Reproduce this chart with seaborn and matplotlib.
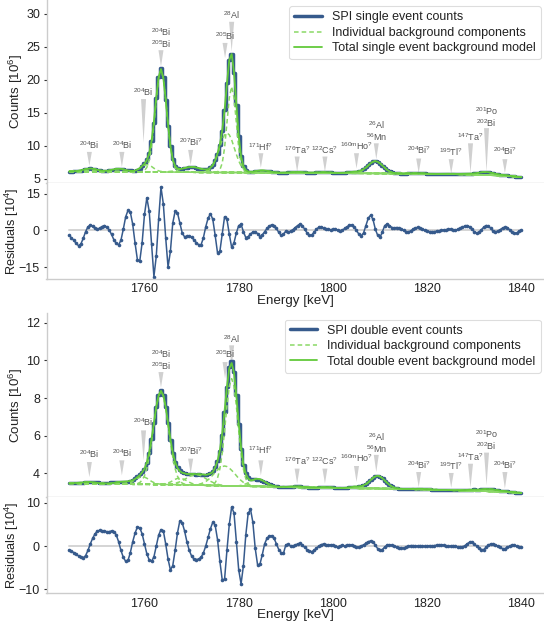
import numpy as np
import pandas as pd
import matplotlib
matplotlib.use("Agg")
import matplotlib.pyplot as plt
import seaborn as sns

# ------------------------------------------------------------------ data
E_START = 1744.0
E_STEP = 0.5
N_BINS = 193
energy = E_START + E_STEP * np.arange(N_BINS)          # bin centres [keV]
tick_energies = [1760, 1780, 1800, 1820, 1840]

# continuum level [10^6 counts] per bin
single_continuum = [
    6.15, 6.15, 6.15, 6.14, 6.14, 6.14, 6.14, 6.13, 6.13, 6.13,
    6.13, 6.13, 6.12, 6.12, 6.12, 6.12, 6.11, 6.11, 6.11, 6.11,
    6.11, 6.10, 6.10, 6.10, 6.09, 6.09, 6.09, 6.08, 6.08, 6.08,
    6.08, 6.08, 6.07, 6.07, 6.07, 6.07, 6.06, 6.06, 6.06, 6.06,
    6.06, 6.05, 6.05, 6.05, 6.04, 6.04, 6.04, 6.03, 6.03, 6.03,
    6.03, 6.02, 6.02, 6.02, 6.01, 6.01, 6.01, 6.00, 6.00, 6.00,
    6.00, 6.00, 5.99, 5.99, 5.99, 5.99, 5.98, 5.98, 5.98, 5.98,
    5.98, 5.98, 5.97, 5.97, 5.97, 5.97, 5.96, 5.96, 5.96, 5.96,
    5.96, 5.96, 5.95, 5.95, 5.95, 5.95, 5.94, 5.94, 5.94, 5.94,
    5.94, 5.94, 5.93, 5.93, 5.93, 5.93, 5.92, 5.92, 5.92, 5.92,
    5.92, 5.92, 5.91, 5.91, 5.91, 5.91, 5.90, 5.90, 5.90, 5.90,
    5.90, 5.89, 5.89, 5.89, 5.88, 5.88, 5.88, 5.87, 5.87, 5.87,
    5.87, 5.87, 5.86, 5.86, 5.86, 5.86, 5.85, 5.85, 5.85, 5.85,
    5.85, 5.84, 5.84, 5.84, 5.83, 5.83, 5.83, 5.82, 5.82, 5.82,
    5.82, 5.81, 5.81, 5.81, 5.80, 5.80, 5.80, 5.79, 5.79, 5.79,
    5.79, 5.78, 5.78, 5.77, 5.77, 5.77, 5.76, 5.76, 5.75, 5.75,
    5.75, 5.74, 5.73, 5.73, 5.72, 5.71, 5.71, 5.70, 5.69, 5.69,
    5.68, 5.67, 5.66, 5.65, 5.64, 5.63, 5.61, 5.60, 5.59, 5.58,
    5.57, 5.55, 5.53, 5.51, 5.50, 5.48,
    5.46, 5.43, 5.40, 5.37, 5.34, 5.31, 5.28]

double_continuum = [
    3.47, 3.47, 3.47, 3.47, 3.47, 3.46, 3.46, 3.46, 3.46, 3.46,
    3.46, 3.46, 3.46, 3.45, 3.45, 3.45, 3.45, 3.44, 3.44, 3.44,
    3.44, 3.44, 3.44, 3.43, 3.43, 3.43, 3.43, 3.42, 3.42, 3.42,
    3.42, 3.42, 3.42, 3.42, 3.42, 3.41, 3.41, 3.41, 3.41, 3.41,
    3.41, 3.41, 3.40, 3.40, 3.40, 3.40, 3.40, 3.39, 3.39, 3.39,
    3.39, 3.39, 3.38, 3.38, 3.38, 3.37, 3.37, 3.37, 3.36, 3.36,
    3.36, 3.36, 3.35, 3.35, 3.35, 3.34, 3.34, 3.34, 3.33, 3.33,
    3.33, 3.33, 3.32, 3.32, 3.32, 3.32, 3.32, 3.31, 3.31, 3.31,
    3.31, 3.31, 3.30, 3.30, 3.30, 3.29, 3.29, 3.29, 3.28, 3.28,
    3.28, 3.28, 3.27, 3.27, 3.27, 3.26, 3.26, 3.26, 3.25, 3.25,
    3.25, 3.25, 3.24, 3.24, 3.24, 3.23, 3.23, 3.23, 3.22, 3.22,
    3.22, 3.22, 3.22, 3.22, 3.21, 3.21, 3.21, 3.21, 3.21, 3.21,
    3.21, 3.21, 3.21, 3.20, 3.20, 3.20, 3.20, 3.20, 3.20, 3.20,
    3.20, 3.20, 3.19, 3.19, 3.19, 3.19, 3.19, 3.18, 3.18, 3.18,
    3.18, 3.17, 3.17, 3.17, 3.16, 3.16, 3.16, 3.15, 3.15, 3.15,
    3.15, 3.14, 3.14, 3.14, 3.13, 3.13, 3.13, 3.12, 3.12, 3.12,
    3.12, 3.11, 3.11, 3.10, 3.10, 3.10, 3.09, 3.09, 3.08, 3.08,
    3.08, 3.07, 3.07, 3.06, 3.06, 3.06, 3.05, 3.05, 3.04, 3.04,
    3.04, 3.03, 3.03, 3.02, 3.01, 3.01,
    3.00, 2.99, 2.99, 2.98, 2.97, 2.97, 2.96]

# fit residuals [10^4 counts] per bin
single_residuals = [
    -2.0, -3.0, -4.0, -5.3, -6.2, -5.5, -3.2, -0.5, 1.5, 2.2,
    1.8, 0.8, 0.6, 0.9, 1.6, 2.0, 1.4, 0.2, -1.6, -3.8,
    -5.3, -5.9, -4.0, 0.5, 5.5, 8.2, 7.4, 2.5, -5.2, -12.0,
    -12.4, -5.0, 6.5, 13.3, 7.8, -5.5, -18.8, -10.5, 4.5, 17.6,
    10.8, -3.0, -14.9, -8.5, 3.0, 7.8, 7.2, 3.0, -1.0, -2.6,
    -2.4, -2.3, -2.8, -3.8, -5.0, -5.8, -5.9, -3.0, 1.5, 5.0,
    6.8, 4.5, -2.0, -9.1, -8.5, -1.5, 5.6, 4.5, -1.5, -6.9,
    -5.0, -1.0, 2.0, 2.5, -0.5, -2.9, -2.5, -1.5, -0.6, -0.5,
    -1.3, -2.5, -1.8, -0.5, 0.8, 1.8, 2.3, 2.0, 0.8, -0.8,
    -2.0, -1.5, -0.3, -0.8, -0.3, 0.3, 1.2, 2.0, 2.6, 2.0,
    0.5, -1.0, -2.0, -1.8, -0.8, 0.5, 1.3, 1.5, 1.0, 0.6,
    0.5, 0.3, 0.4, 0.5, 0.2, -0.2, 0.1, 0.8, 1.5, 2.1,
    2.3, 1.5, 0.0, -1.5, -2.2, -1.0, 2.0, 5.0, 6.2, 4.5,
    0.5, -2.0, -2.8, -0.5, 2.0, 2.6, 2.0, 1.2, 1.0, 1.2,
    1.0, 0.5, 0.0, -0.5, -0.6, -0.2, 0.5, 1.0, 1.3, 1.0,
    0.5, 0.0, -0.3, -0.5, -0.5, -0.5, -0.3, -0.2, 0.0, 0.2,
    0.3, 0.5, 0.5, 0.3, 0.2, 0.4, 0.8, 1.3, 1.8, 2.0,
    1.5, 0.5, -0.5, -1.0, -0.8, 0.3, 1.3, 2.0, 1.8, 0.8,
    -0.2, -0.5, -0.3, 0.3, 1.0, 1.3, 1.2, 0.3, -0.8, -1.2,
    -1.0, -0.3, 0.2]

double_residuals = [
    -0.9, -1.2, -1.5, -1.8, -2.3, -2.6, -2.7, -2.2, -1.0, 0.5,
    1.8, 2.8, 3.5, 3.6, 3.5, 3.5, 3.3, 3.3, 3.5, 3.3,
    2.6, 1.0, -1.0, -2.6, -3.5, -3.3, -1.5, 1.0, 3.0, 4.4,
    4.2, 2.8, 0.5, -1.8, -3.2, -3.5, -2.5, 0.0, 2.5, 3.8,
    3.5, 0.5, -3.0, -5.5, -4.5, -1.0, 3.0, 5.8, 5.4, 3.5,
    1.0, -1.0, -2.3, -3.0, -3.1, -3.0, -2.6, -1.6, 0.0, 2.0,
    4.0, 5.5, 4.8, 1.5, -3.5, -7.8, -7.6, -1.0, 5.0, 9.0,
    7.6, 1.0, -5.5, -8.7, -4.5, 2.5, 7.5, 8.5, 5.5, -0.5,
    -4.3, -4.2, -2.0, 0.5, 1.8, 2.3, 2.4, 1.8, 0.5, -0.8,
    -1.5, -1.7, 0.3, 0.4, 0.0, 0.0, 0.2, 0.5, 0.6, 0.2,
    -0.3, -0.8, -1.1, -1.3, -1.0, -0.5, 0.0, 0.3, 0.5, 0.3,
    0.2, 0.3, 0.2, 0.0, -0.2, 0.0, 0.2, 0.0, 0.2, 0.3,
    0.3, 0.0, -0.3, -0.2, 0.0, 0.3, 0.6, 1.0, 1.2, 1.0,
    0.2, -0.6, -1.0, -0.8, -0.2, 0.2, 0.3, 0.2, 0.0, -0.2,
    -0.4, -0.5, -0.5, -0.3, 0.0, 0.1, 0.1, 0.0, 0.0, 0.1,
    0.0, -0.1, 0.0, 0.1, 0.0, 0.1, 0.2, 0.3, 0.3, 0.2,
    0.0, -0.1, 0.0, 0.1, 0.0, -0.2, -0.3, -0.2, 0.1, 0.5,
    0.9, 1.0, 0.5, 0.0, -0.5, -0.8, -0.8, -0.3, 0.2, 0.5,
    0.5, 0.3, 0.0, -0.3, -0.6, -0.6, -0.3, 0.0, 0.2, 0.2,
    0.0, -0.2, -0.3]

# individual background line components: (first bin energy, excess over continuum [10^6])
single_components = [
    (1744.5, [0.01, 0.03, 0.06, 0.11, 0.18, 0.27, 0.36, 0.43, 0.45, 0.43, 0.36, 0.27, 0.18, 0.11, 0.06, 0.03, 0.01]),
    (1750.5, [0.01, 0.03, 0.06, 0.11, 0.18, 0.27, 0.36, 0.43, 0.45, 0.43, 0.36, 0.27, 0.18, 0.11, 0.06, 0.03, 0.01]),
    (1757.0, [0.03, 0.08, 0.17, 0.34, 0.57, 0.82, 1.02, 1.10, 1.02, 0.82, 0.57, 0.34, 0.17, 0.08, 0.03]),
    (1759.5, [0.06, 0.22, 0.68, 1.77, 3.86, 7.10, 10.96, 14.21, 15.50, 14.21, 10.96, 7.10, 3.86, 1.77, 0.68, 0.22, 0.06]),
    (1764.5, [0.04, 0.06, 0.10, 0.15, 0.23, 0.32, 0.42, 0.53, 0.63, 0.72, 0.78, 0.80, 0.78, 0.72, 0.63, 0.53, 0.42, 0.32, 0.23, 0.15, 0.10, 0.06, 0.04]),
    (1772.5, [0.05, 0.11, 0.26, 0.55, 1.03, 1.77, 2.75, 3.86, 4.94, 5.71, 6.00, 5.71, 4.94, 3.86, 2.75, 1.77, 1.03, 0.55, 0.26, 0.11, 0.05]),
    (1775.5, [0.09, 0.40, 1.42, 3.74, 7.48, 11.32, 13.00, 11.32, 7.48, 3.74, 1.42, 0.40, 0.09]),
    (1781.0, [0.01, 0.02, 0.05, 0.09, 0.14, 0.21, 0.28, 0.33, 0.35, 0.33, 0.28, 0.21, 0.14, 0.09, 0.05, 0.02, 0.01]),
    (1788.5, [0.00, 0.01, 0.02, 0.04, 0.06, 0.09, 0.12, 0.14, 0.15, 0.14, 0.12, 0.09, 0.06, 0.04, 0.02, 0.01, 0.00]),
    (1794.0, [0.00, 0.01, 0.02, 0.04, 0.06, 0.09, 0.12, 0.14, 0.15, 0.14, 0.12, 0.09, 0.06, 0.04, 0.02, 0.01, 0.00]),
    (1800.5, [0.01, 0.01, 0.03, 0.05, 0.08, 0.12, 0.16, 0.19, 0.20, 0.19, 0.16, 0.12, 0.08, 0.05, 0.03, 0.01, 0.01]),
    (1804.0, [0.01, 0.04, 0.08, 0.17, 0.32, 0.55, 0.85, 1.19, 1.52, 1.76, 1.85, 1.76, 1.52, 1.19, 0.85, 0.55, 0.32, 0.17, 0.08, 0.04, 0.01]),
    (1814.0, [0.00, 0.01, 0.01, 0.02, 0.04, 0.06, 0.08, 0.09, 0.10, 0.09, 0.08, 0.06, 0.04, 0.02, 0.01, 0.01, 0.00]),
    (1821.0, [0.00, 0.00, 0.01, 0.01, 0.02, 0.03, 0.04, 0.05, 0.05, 0.05, 0.04, 0.03, 0.02, 0.01, 0.01, 0.00, 0.00]),
    (1825.0, [0.00, 0.01, 0.01, 0.02, 0.04, 0.06, 0.08, 0.09, 0.10, 0.09, 0.08, 0.06, 0.04, 0.02, 0.01, 0.01, 0.00]),
    (1828.5, [0.01, 0.03, 0.06, 0.11, 0.18, 0.27, 0.36, 0.43, 0.45, 0.43, 0.36, 0.27, 0.18, 0.11, 0.06, 0.03, 0.01]),
    (1832.0, [0.00, 0.01, 0.01, 0.02, 0.04, 0.06, 0.08, 0.09, 0.10, 0.09, 0.08, 0.06, 0.04, 0.02, 0.01, 0.01, 0.00]),
]

double_components = [
    (1744.0, [0.00, 0.01, 0.01, 0.02, 0.03, 0.05, 0.06, 0.08, 0.08, 0.08, 0.06, 0.05, 0.03, 0.02, 0.01, 0.01, 0.00]),
    (1750.5, [0.00, 0.00, 0.01, 0.01, 0.02, 0.04, 0.05, 0.08, 0.10, 0.11, 0.12, 0.11, 0.10, 0.08, 0.05, 0.04, 0.02, 0.01, 0.01, 0.00, 0.00]),
    (1755.5, [0.01, 0.03, 0.05, 0.10, 0.16, 0.24, 0.32, 0.38, 0.40, 0.38, 0.32, 0.24, 0.16, 0.10, 0.05, 0.03, 0.01]),
    (1758.5, [0.04, 0.09, 0.22, 0.45, 0.85, 1.46, 2.27, 3.19, 4.07, 4.71, 4.95, 4.71, 4.07, 3.19, 2.27, 1.46, 0.85, 0.45, 0.22, 0.09, 0.04]),
    (1763.5, [0.01, 0.02, 0.05, 0.09, 0.14, 0.21, 0.28, 0.33, 0.35, 0.33, 0.28, 0.21, 0.14, 0.09, 0.05, 0.02, 0.01]),
    (1765.5, [0.02, 0.04, 0.07, 0.11, 0.16, 0.22, 0.29, 0.36, 0.44, 0.50, 0.54, 0.55, 0.54, 0.50, 0.44, 0.36, 0.29, 0.22, 0.16, 0.11, 0.07, 0.04, 0.02]),
    (1771.5, [0.05, 0.08, 0.13, 0.20, 0.30, 0.41, 0.55, 0.70, 0.83, 0.95, 1.02, 1.05, 1.02, 0.95, 0.83, 0.70, 0.55, 0.41, 0.30, 0.20, 0.13, 0.08, 0.05]),
    (1775.0, [0.15, 0.40, 0.89, 1.74, 2.93, 4.24, 5.30, 5.70, 5.30, 4.24, 2.93, 1.74, 0.89, 0.40, 0.15]),
    (1779.0, [0.00, 0.01, 0.02, 0.04, 0.07, 0.12, 0.18, 0.26, 0.33, 0.38, 0.40, 0.38, 0.33, 0.26, 0.18, 0.12, 0.07, 0.04, 0.02, 0.01, 0.00]),
    (1788.5, [0.00, 0.00, 0.01, 0.01, 0.02, 0.03, 0.04, 0.05, 0.05, 0.05, 0.04, 0.03, 0.02, 0.01, 0.01, 0.00, 0.00]),
    (1794.5, [0.00, 0.00, 0.01, 0.01, 0.02, 0.03, 0.04, 0.05, 0.05, 0.05, 0.04, 0.03, 0.02, 0.01, 0.01, 0.00, 0.00]),
    (1801.0, [0.00, 0.01, 0.01, 0.02, 0.03, 0.05, 0.06, 0.08, 0.08, 0.08, 0.06, 0.05, 0.03, 0.02, 0.01, 0.01, 0.00]),
    (1804.5, [0.01, 0.01, 0.03, 0.06, 0.12, 0.20, 0.31, 0.43, 0.55, 0.64, 0.67, 0.64, 0.55, 0.43, 0.31, 0.20, 0.12, 0.06, 0.03, 0.01, 0.01]),
    (1814.5, [0.00, 0.00, 0.00, 0.01, 0.01, 0.02, 0.02, 0.03, 0.03, 0.03, 0.02, 0.02, 0.01, 0.01, 0.00, 0.00, 0.00]),
    (1825.5, [0.00, 0.00, 0.01, 0.01, 0.02, 0.03, 0.04, 0.05, 0.05, 0.05, 0.04, 0.03, 0.02, 0.01, 0.01, 0.00, 0.00]),
    (1829.0, [0.00, 0.01, 0.02, 0.03, 0.05, 0.07, 0.10, 0.11, 0.12, 0.11, 0.10, 0.07, 0.05, 0.03, 0.02, 0.01, 0.00]),
    (1832.5, [0.00, 0.00, 0.01, 0.01, 0.02, 0.03, 0.03, 0.04, 0.04, 0.04, 0.03, 0.03, 0.02, 0.01, 0.01, 0.00, 0.00]),
]

# line identifications
line_labels = ["$^{204}$Bi", "$^{204}$Bi", "$^{204}$Bi", "$^{204}$Bi\n$^{205}$Bi",
               "$^{207}$Bi$^{?}$", "$^{205}$Bi", "$^{28}$Al", "$^{171}$Hf$^{?}$",
               "$^{176}$Ta$^{?}$", "$^{122}$Cs$^{?}$", "$^{160m}$Ho$^{?}$",
               "$^{26}$Al\n$^{56}$Mn", "$^{204}$Bi$^{?}$", "$^{195}$Tl$^{?}$",
               "$^{147}$Ta$^{?}$", "$^{201}$Po\n$^{202}$Bi", "$^{204}$Bi$^{?}$"]
line_energies = [1748.3, 1755.2, 1759.8, 1763.5, 1769.8, 1777.1, 1778.5, 1784.7,
                 1792.4, 1798.3, 1805.0, 1809.2, 1818.2, 1825.1, 1829.2, 1832.6, 1836.5]

# label placement (text centre, marker top, marker bottom) in data units
single_label_pos = [(10.15, 9.1, 7.0), (10.15, 9.1, 6.8), (18.1, 17.1, 10.5), (26.35, 24.5, 22.0),
                    (10.6, 9.4, 7.1), (26.6, 25.6, 23.3), (29.8, 28.8, 24.3), (9.8, 8.9, 6.7),
                    (9.3, 8.4, 6.1), (9.3, 8.4, 6.1), (9.9, 8.9, 6.6), (12.2, 10.4, 8.0),
                    (9.3, 8.1, 5.9), (9.0, 8.0, 5.8), (11.4, 10.4, 5.9), (14.35, 12.7, 6.1),
                    (9.2, 8.0, 5.9)]
double_label_pos = [(5.01, 4.6, 3.8), (5.05, 4.69, 3.89), (6.72, 6.28, 4.69), (10.0, 9.38, 8.55),
                    (5.18, 4.78, 3.98), (10.32, 9.91, 9.03), (11.15, 10.8, 9.65), (5.22, 4.69, 3.89),
                    (4.65, 4.25, 3.45), (4.65, 4.25, 3.45), (4.83, 4.39, 3.54), (5.62, 4.98, 4.07),
                    (4.42, 4.07, 3.27), (4.39, 4.02, 3.24), (4.85, 4.51, 3.24), (5.75, 5.1, 3.36),
                    (4.42, 4.07, 3.19)]

# ------------------------------------------------------------------ style
sns.set_theme(style="white")
plt.rcParams["font.family"] = ["Liberation Sans", "DejaVu Sans"]
plt.rcParams["mathtext.default"] = "regular"

BLUE = "#365a8c"
GREEN = "#62c93a"
LGREEN = "#8ad866"
SPINE = "#cccccc"
TXT = "#222222"

W, H = 544, 625
fig = plt.figure(figsize=(W / 100, H / 100), dpi=100)
L = 46.5 / W
WD = 1 - L
ax_s = fig.add_axes([L, 0.7075, WD, 0.2925])
ax_sr = fig.add_axes([L, 0.5531, WD, 0.1544], sharex=ax_s)
ax_d = fig.add_axes([L, 0.2053, WD, 0.2934], sharex=ax_s)
ax_dr = fig.add_axes([L, 0.0506, WD, 0.1542], sharex=ax_s)


def expand(components):
    out = []
    for start, vals in components:
        arr = np.zeros(N_BINS)
        i0 = int(round((start - E_START) / E_STEP))
        v = np.asarray(vals, dtype=float)[: N_BINS - i0]
        arr[i0:i0 + len(v)] = v
        out.append(arr)
    return out


def style_axes(ax, yticks, ylim):
    for s in ("top", "right"):
        ax.spines[s].set_visible(False)
    for s in ("left", "bottom"):
        ax.spines[s].set_color(SPINE)
        ax.spines[s].set_linewidth(1.0)
    ax.set_yticks(yticks)
    ax.set_ylim(*ylim)
    ax.tick_params(axis="y", left=True, length=2.5, width=0.8, color="#333333",
                   pad=2.2, labelsize=9, labelcolor=TXT)
    ax.tick_params(axis="x", bottom=False, length=0, pad=3, labelsize=9, labelcolor=TXT)
    ax.grid(False)


def draw_main(ax, cont, comps, resid, kind, yticks, ylim, label_pos):
    cont = np.asarray(cont)
    parts = expand(comps)
    total = cont + np.sum(parts, axis=0)
    counts = total + np.asarray(resid) / 100.0
    df = pd.DataFrame({"energy": energy, "counts": counts, "total": total})
    sns.lineplot(data=df, x="energy", y="counts", ax=ax, color=BLUE, linewidth=2.5,
                 drawstyle="steps-mid", zorder=2)
    h_data = ax.lines[-1]
    h_comp = None
    for p in parts:
        sns.lineplot(x=energy, y=cont + p, ax=ax, color=LGREEN, linewidth=1.1,
                     linestyle=(0, (3.0, 2.0)), zorder=3)
        if h_comp is None:
            h_comp = ax.lines[-1]
    sns.lineplot(data=df, x="energy", y="total", ax=ax, color=GREEN, linewidth=1.3, zorder=4)
    h_tot = ax.lines[-1]
    style_axes(ax, yticks, ylim)
    ax.tick_params(axis="x", labelbottom=False)
    ax.set_xlabel("")
    ax.set_ylabel("Counts [$10^6$]", fontsize=9.6, color=TXT)
    ax.yaxis.set_label_coords(-0.044, 0.5)
    for lab, e, (ty, top, bot) in zip(line_labels, line_energies, label_pos):
        ax.annotate("", xy=(e, bot), xytext=(e, top),
                    arrowprops=dict(arrowstyle="wedge,tail_width=0.36,shrink_factor=0.5",
                                    fc="#d0d0d0", ec="none", shrinkA=0, shrinkB=0,
                                    mutation_scale=10), zorder=1)
        ax.text(e, ty, lab, ha="center", va="center", fontsize=6.5, color="#555555",
                linespacing=1.0, zorder=5)
    leg = ax.legend([h_data, h_comp, h_tot],
                    [f"SPI {kind} event counts", "Individual background components",
                     f"Total {kind} event background model"],
                    loc="upper right", bbox_to_anchor=(0.993, 0.965), borderaxespad=0,
                    fontsize=9.0, handlelength=2.2, handletextpad=0.8, labelspacing=0.28,
                    borderpad=0.4, frameon=True, edgecolor="#d5d5d5", fancybox=True)
    leg.get_frame().set_linewidth(0.8)
    for t in leg.get_texts():
        t.set_color(TXT)


def draw_resid(ax, resid, yticks, ylim):
    df = pd.DataFrame({"energy": energy, "resid": resid, "zero": np.zeros(N_BINS)})
    sns.lineplot(data=df, x="energy", y="zero", ax=ax, color="#d4d4d4", linewidth=1.4, zorder=1)
    sns.lineplot(data=df, x="energy", y="resid", ax=ax, color=BLUE, linewidth=1.1,
                 marker="o", markersize=2.6, markeredgewidth=0, zorder=2)
    style_axes(ax, yticks, ylim)
    ax.set_xticks(tick_energies)
    ax.set_xlabel("Energy [keV]", fontsize=9.6, color=TXT)
    ax.xaxis.set_label_coords(0.5, -0.16)
    ax.xaxis.label.set_va("top")
    ax.set_ylabel("Residuals [$10^4$]", fontsize=9.2, color=TXT)
    ax.yaxis.set_label_coords(-0.052, 0.5)


draw_main(ax_s, single_continuum, single_components, single_residuals, "single",
          [5, 10, 15, 20, 25, 30], (4.42, 32.1), single_label_pos)
draw_resid(ax_sr, single_residuals, [-15, 0, 15], (-19.9, 19.4))
draw_main(ax_d, double_continuum, double_components, double_residuals, "double",
          [4, 6, 8, 10, 12], (2.76, 12.5), double_label_pos)
draw_resid(ax_dr, double_residuals, [-10, 0, 10], (-10.9, 11.3))

ax_s.set_xlim(1739.2, 1844.8)

fig.savefig("out.png", dpi=100)
